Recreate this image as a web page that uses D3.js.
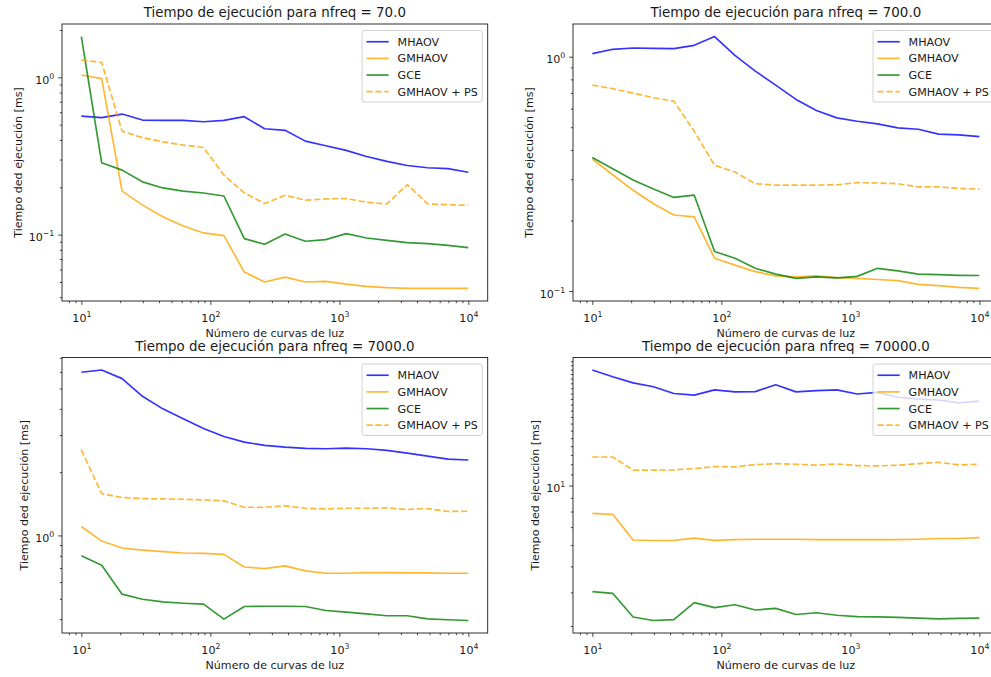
<!DOCTYPE html>
<html>
<head>
<meta charset="utf-8">
<script src="https://cdn.jsdelivr.net/npm/d3@7"></script>
<style>
    body { margin: 0; background: #fff; }
    svg { display: block; font-family: "DejaVu Sans", sans-serif; }
</style>
</head>
<body>
<svg id="chart"></svg>
<script>
var width = 991;
var height = 677;

// number of light curves (log-spaced from 10 to 10^4, 20 points)
var nCurves = [10, 14.38, 20.69, 29.76, 42.81, 61.58, 88.59, 127.4, 183.3, 263.7,
    379.3, 545.6, 784.8, 1129, 1624, 2336, 3360, 4833, 6952, 10000];

var seriesNames = ["MHAOV", "GMHAOV", "GCE", "GMHAOV + PS"];
var nfreqLabels = ["70.0", "700.0", "7000.0", "70000.0"];

// nfreq = 70
var mhaov70 = [0.567, 0.554, 0.584, 0.535, 0.532, 0.532, 0.522, 0.532, 0.562, 0.471, 0.460, 0.393, 0.367, 0.343, 0.314, 0.292, 0.275, 0.266, 0.263, 0.249];
var gmhaov70 = [1.035, 0.98, 0.189, 0.154, 0.130, 0.1135, 0.1025, 0.0986, 0.0578, 0.050, 0.0537, 0.050, 0.0504, 0.0485, 0.0469, 0.046, 0.0455, 0.0455, 0.0455, 0.0455];
var gce70 = [1.815, 0.286, 0.257, 0.2165, 0.198, 0.189, 0.184, 0.176, 0.0943, 0.0868, 0.101, 0.0907, 0.0929, 0.1015, 0.0952, 0.092, 0.089, 0.0877, 0.0855, 0.0826];
var gmhaovPs70 = [1.29, 1.24, 0.455, 0.413, 0.389, 0.371, 0.358, 0.239, 0.184, 0.1576, 0.178, 0.1655, 0.1687, 0.1695, 0.1607, 0.1567, 0.208, 0.1567, 0.155, 0.1537];

// nfreq = 700
var mhaov700 = [1.03, 1.075, 1.089, 1.085, 1.082, 1.118, 1.218, 1.013, 0.868, 0.756, 0.657, 0.589, 0.548, 0.530, 0.517, 0.497, 0.490, 0.467, 0.464, 0.456];
var gmhaov700 = [0.366, 0.3135, 0.269, 0.2357, 0.211, 0.2073, 0.138, 0.129, 0.121, 0.116, 0.115, 0.116, 0.114, 0.1133, 0.112, 0.1107, 0.1068, 0.1054, 0.1037, 0.1026];
var gce700 = [0.371, 0.3327, 0.2977, 0.2724, 0.2508, 0.2567, 0.1474, 0.138, 0.125, 0.118, 0.1133, 0.115, 0.1137, 0.1155, 0.125, 0.1218, 0.118, 0.1174, 0.1167, 0.1165];
var gmhaovPs700 = [0.756, 0.730, 0.699, 0.668, 0.6457, 0.481, 0.344, 0.322, 0.287, 0.283, 0.283, 0.283, 0.284, 0.290, 0.289, 0.287, 0.278, 0.278, 0.274, 0.272];

// nfreq = 7000
var mhaov7000 = [5.97, 6.12, 5.57, 4.59, 4.0, 3.585, 3.226, 2.957, 2.78, 2.68, 2.63, 2.594, 2.585, 2.60, 2.585, 2.537, 2.465, 2.385, 2.308, 2.284];
var gmhaov7000 = [1.103, 0.940, 0.871, 0.852, 0.837, 0.825, 0.822, 0.813, 0.708, 0.695, 0.716, 0.678, 0.661, 0.661, 0.666, 0.666, 0.663, 0.663, 0.661, 0.661];
var gce7000 = [0.801, 0.721, 0.5255, 0.497, 0.483, 0.476, 0.471, 0.400, 0.459, 0.4606, 0.4606, 0.459, 0.4395, 0.4315, 0.4237, 0.415, 0.415, 0.401, 0.397, 0.394];
var gmhaovPs7000 = [2.547, 1.58, 1.514, 1.497, 1.492, 1.486, 1.476, 1.46, 1.362, 1.362, 1.382, 1.347, 1.338, 1.347, 1.347, 1.352, 1.328, 1.342, 1.30, 1.304];

// nfreq = 70000
var mhaov70000 = [26.9, 25.4, 24.1, 23.3, 22.0, 21.7, 22.7, 22.3, 22.35, 23.7, 22.3, 22.55, 22.7, 21.9, 22.2, 21.3, 20.95, 20.8, 20.3, 20.6];
var gmhaov70000 = [7.88, 7.81, 6.27, 6.24, 6.25, 6.37, 6.25, 6.29, 6.31, 6.31, 6.31, 6.29, 6.29, 6.29, 6.29, 6.29, 6.31, 6.35, 6.35, 6.40];
var gce70000 = [4.03, 3.97, 3.24, 3.145, 3.17, 3.665, 3.51, 3.60, 3.44, 3.49, 3.31, 3.36, 3.29, 3.25, 3.245, 3.23, 3.21, 3.19, 3.20, 3.21];
var gmhaovPs70000 = [12.77, 12.77, 11.4, 11.4, 11.43, 11.56, 11.76, 11.73, 11.96, 12.06, 12.0, 11.9, 12.03, 11.86, 11.83, 11.9, 12.06, 12.2, 11.93, 12.0];

var panelSeries = [
    [mhaov70, gmhaov70, gce70, gmhaovPs70],
    [mhaov700, gmhaov700, gce700, gmhaovPs700],
    [mhaov7000, gmhaov7000, gce7000, gmhaovPs7000],
    [mhaov70000, gmhaov70000, gce70000, gmhaovPs70000]
];

var colors = ["blue", "orange", "green", "orange"];
var dashes = [null, null, null, "6.2,2.7"];

// layout (matplotlib 2x2 grid, right column cut by the figure edge)
var axW = 425.7;
var colLeft = [62, 573];
var rowTop = [24, 357.5];
var rowBottom = [301, 633];

var fs = 11.1;       // 10pt text
var titleFs = 13.4;  // 12pt title
var ink = "#1a1a1a";

var svg = d3.select("#chart")
    .attr("width", width)
    .attr("height", height);

svg.append("rect")
    .attr("width", width)
    .attr("height", height)
    .attr("fill", "#fff");

function isMajor(v) {
    var l = Math.log10(v);
    return Math.abs(l - Math.round(l)) < 1e-6;
}

function powLabel(sel) {
    sel.each(function (d) {
        var t = d3.select(this);
        var e = Math.round(Math.log10(d));
        t.text("10");
        t.append("tspan")
            .attr("font-size", fs * 0.7)
            .attr("dy", -5)
            .text(e < 0 ? "\u2212" + (-e) : String(e));
    });
}

for (var p = 0; p < 4; p++) {
    drawPanel(p);
}

function drawPanel(p) {
    var left = colLeft[p % 2];
    var top = rowTop[Math.floor(p / 2)];
    var h = rowBottom[Math.floor(p / 2)] - top;
    var series = panelSeries[p];

    var g = svg.append("g")
        .attr("transform", "translate(" + left + "," + top + ")");

    // 5% margins in log space, like matplotlib autoscale
    var xlo = Math.log10(d3.min(nCurves));
    var xhi = Math.log10(d3.max(nCurves));
    var xm = (xhi - xlo) * 0.05;
    var x = d3.scaleLog()
        .domain([Math.pow(10, xlo - xm), Math.pow(10, xhi + xm)])
        .range([0, axW]);

    var all = [];
    for (var i = 0; i < series.length; i++) {
        all = all.concat(series[i]);
    }
    var ylo = Math.log10(d3.min(all));
    var yhi = Math.log10(d3.max(all));
    var ym = (yhi - ylo) * 0.05;
    var y = d3.scaleLog()
        .domain([Math.pow(10, ylo - ym), Math.pow(10, yhi + ym)])
        .range([h, 0]);

    var xTicks = x.ticks(20);
    var yTicks = y.ticks(20);

    // minor ticks
    var xMinor = g.append("g")
        .attr("transform", "translate(0," + h + ")")
        .call(d3.axisBottom(x)
            .tickValues(xTicks.filter(function (d) { return !isMajor(d); }))
            .tickSize(2.2)
            .tickSizeOuter(0)
            .tickFormat(""));
    var yMinor = g.append("g")
        .call(d3.axisLeft(y)
            .tickValues(yTicks.filter(function (d) { return !isMajor(d); }))
            .tickSize(2.2)
            .tickSizeOuter(0)
            .tickFormat(""));

    // major ticks
    var xMajor = g.append("g")
        .attr("transform", "translate(0," + h + ")")
        .call(d3.axisBottom(x)
            .tickValues(xTicks.filter(isMajor))
            .tickSize(3.9)
            .tickSizeOuter(0));
    var yMajor = g.append("g")
        .call(d3.axisLeft(y)
            .tickValues(yTicks.filter(isMajor))
            .tickSize(3.9)
            .tickSizeOuter(0));

    [xMinor, yMinor, xMajor, yMajor].forEach(function (a) {
        a.select(".domain").remove();
        a.selectAll("line").attr("stroke", ink).attr("stroke-width", 0.8);
        a.selectAll("text")
            .attr("fill", ink)
            .attr("font-family", "DejaVu Sans")
            .attr("font-size", fs);
    });

    xMajor.selectAll("text")
        .attr("y", 20.5)
        .attr("dy", null)
        .call(powLabel);

    yMajor.selectAll("text")
        .attr("x", -7.8)
        .attr("y", 6)
        .attr("dy", null)
        .call(powLabel);

    // lines
    var line = d3.line()
        .x(function (d, i) { return x(nCurves[i]); })
        .y(function (d) { return y(d); });

    for (var s = 0; s < series.length; s++) {
        g.append("path")
            .datum(series[s])
            .attr("d", line)
            .attr("fill", "none")
            .attr("stroke", colors[s])
            .attr("stroke-opacity", 0.8)
            .attr("stroke-width", 1.67)
            .attr("stroke-linejoin", "round")
            .attr("stroke-dasharray", dashes[s]);
    }

    // frame
    g.append("rect")
        .attr("width", axW)
        .attr("height", h)
        .attr("fill", "none")
        .attr("stroke", ink)
        .attr("stroke-width", 0.9);

    // title and labels
    g.append("text")
        .attr("x", axW / 2)
        .attr("y", -7)
        .attr("text-anchor", "middle")
        .attr("font-size", titleFs)
        .attr("fill", ink)
        .text("Tiempo de ejecución para nfreq = " + nfreqLabels[p]);

    g.append("text")
        .attr("x", axW / 2)
        .attr("y", h + 35.5)
        .attr("text-anchor", "middle")
        .attr("font-size", fs)
        .attr("fill", ink)
        .text("Número de curvas de luz");

    var tickLeft = 0;
    yMajor.selectAll("text").each(function () {
        var b = this.getBBox();
        if (b.x < tickLeft) tickLeft = b.x;
    });

    g.append("text")
        .attr("transform", "translate(" + (tickLeft - 7.1) + "," + (h / 2) + ") rotate(-90)")
        .attr("text-anchor", "middle")
        .attr("font-size", fs)
        .attr("fill", ink)
        .text("Tiempo ded ejecución [ms]");

    drawLegend(g);
}

function drawLegend(g) {
    var pad = 0.4 * fs;
    var handle = 2 * fs;
    var textPad = 0.8 * fs;
    var rowH = fs + 0.5 * fs;

    var legend = g.append("g");
    var box = legend.append("rect")
        .attr("rx", 2)
        .attr("fill", "#fff")
        .attr("fill-opacity", 0.8)
        .attr("stroke", "#cccccc")
        .attr("stroke-width", 0.9);

    var textW = 0;
    for (var i = 0; i < seriesNames.length; i++) {
        var cy = pad + fs / 2 + 1.2 + i * rowH;
        legend.append("line")
            .attr("x1", pad)
            .attr("x2", pad + handle)
            .attr("y1", cy)
            .attr("y2", cy)
            .attr("stroke", colors[i])
            .attr("stroke-opacity", 0.8)
            .attr("stroke-width", 1.67)
            .attr("stroke-dasharray", dashes[i]);
        var t = legend.append("text")
            .attr("x", pad + handle + textPad)
            .attr("y", cy + 4)
            .attr("font-size", fs)
            .attr("fill", ink)
            .text(seriesNames[i]);
        textW = Math.max(textW, t.node().getComputedTextLength());
    }

    var boxW = pad + handle + textPad + textW + pad;
    var boxH = 2 * pad + seriesNames.length * fs + (seriesNames.length - 1) * 0.5 * fs + 1.5;
    box.attr("width", boxW).attr("height", boxH);

    var offset = 0.5 * fs;
    legend.attr("transform", "translate(" + (axW - offset - boxW) + "," + (offset + 1) + ")");
}
</script>
</body>
</html>
